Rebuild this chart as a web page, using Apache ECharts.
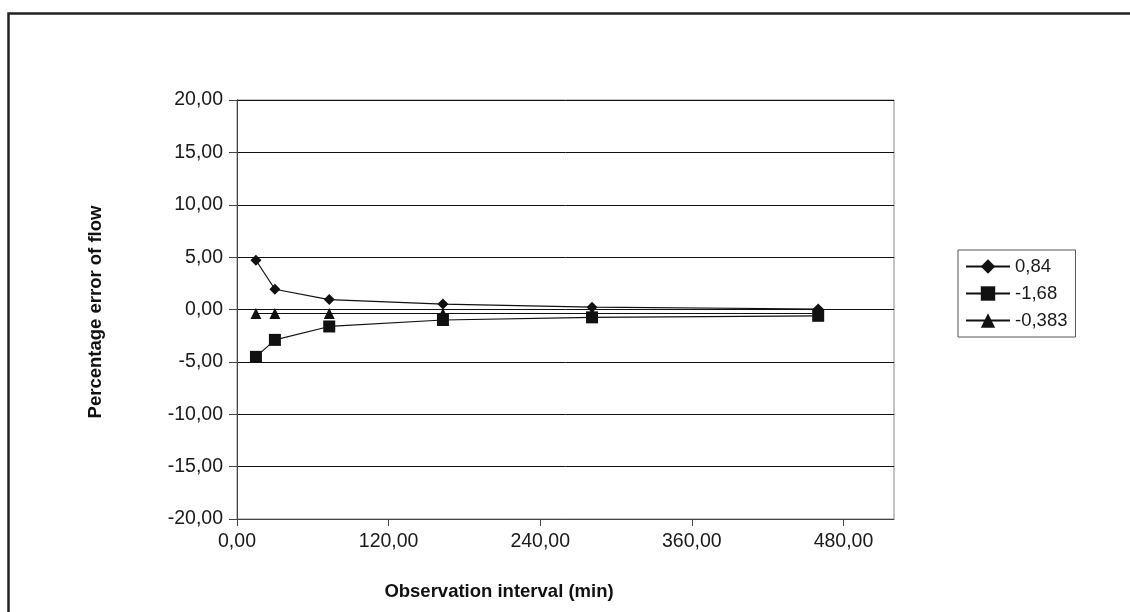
<!DOCTYPE html>
<html>
<head>
<meta charset="utf-8">
<script src="https://cdn.jsdelivr.net/npm/echarts@6/dist/echarts.min.js"></script>
<style>
html,body{margin:0;padding:0;background:#fff;}
#c{width:1130px;height:612px;}
</style>
</head>
<body>
<div id="c"></div>
<script>
// Data
var xTicks = [0, 120, 240, 360, 480];
var intervals = [15, 30, 73, 163, 281, 460];
var seriesNames = ['0,84', '-1,68', '-0,383'];
var errA = [4.70, 1.93, 0.95, 0.52, 0.22, 0.05];
var errB = [-4.52, -2.90, -1.62, -1.00, -0.75, -0.60];
var errC = [-0.383, -0.383, -0.383, -0.383, -0.383, -0.383];

function fmt(v){ return v.toFixed(2).replace('.', ','); }
function pairs(xs, ys){ return xs.map(function(x,i){ return [x, ys[i]]; }); }

var chart = echarts.init(document.getElementById('c'), null, {renderer:'canvas'});
var font = 'Liberation Sans, Arial, sans-serif';
var lineStyle = {color:'#111', width:1.2};
var itemStyle = {color:'#111'};

chart.setOption({
  animation:false,
  backgroundColor:'#fff',
  textStyle:{fontFamily:font},
  grid:{left:237, right:236, top:100, bottom:93, show:true, borderColor:'#8a8a8a', borderWidth:1, backgroundColor:'transparent'},
  xAxis:{
    type:'value', min:0, max:520,
    axisLine:{onZero:false, lineStyle:{color:'#444', width:1}},
    axisTick:{show:true, inside:false, length:7, customValues:xTicks, lineStyle:{color:'#444'}},
    axisLabel:{customValues:xTicks, formatter:fmt, color:'#1a1a1a', fontSize:19.5, margin:13, fontFamily:font},
    splitLine:{show:false}
  },
  yAxis:{
    type:'value', min:-20, max:20, interval:5,
    axisLine:{show:true, lineStyle:{color:'#444', width:1}},
    axisTick:{show:true, inside:false, length:8, lineStyle:{color:'#444'}},
    axisLabel:{formatter:fmt, color:'#1a1a1a', fontSize:19.5, margin:14, fontFamily:font},
    splitLine:{show:true, lineStyle:{color:'#111', width:1}}
  },
  legend:{
    orient:'vertical', left:958, top:250,
    borderColor:'#555', borderWidth:1, padding:[7,8,7,7], itemGap:8,
    itemWidth:44, itemHeight:18,
    textStyle:{fontSize:18.5, color:'#1a1a1a', fontFamily:font},
    data:seriesNames
  },
  series:[
    {name:seriesNames[0], type:'line', data:pairs(intervals, errA), symbol:'diamond', symbolSize:11,
     lineStyle:lineStyle, itemStyle:itemStyle},
    {name:seriesNames[1], type:'line', data:pairs(intervals, errB), symbol:'rect', symbolSize:12,
     lineStyle:lineStyle, itemStyle:itemStyle},
    {name:seriesNames[2], type:'line', data:pairs(intervals, errC), symbol:'triangle', symbolSize:11,
     lineStyle:lineStyle, itemStyle:itemStyle}
  ],
  graphic:[
    {type:'rect', left:6, top:11, shape:{x:0, y:0, width:1140, height:620}, style:{fill:'none', stroke:'#222', lineWidth:2.5}, silent:true},
    {type:'text', x:96, y:312, rotation:Math.PI/2, style:{text:'Percentage error of flow', font:'bold 18.5px Liberation Sans, Arial, sans-serif', fill:'#111', align:'center', verticalAlign:'middle'}},
    {type:'text', x:499, y:592, style:{text:'Observation interval (min)', font:'bold 18.5px Liberation Sans, Arial, sans-serif', fill:'#111', align:'center', verticalAlign:'middle'}}
  ]
});
</script>
</body>
</html>
